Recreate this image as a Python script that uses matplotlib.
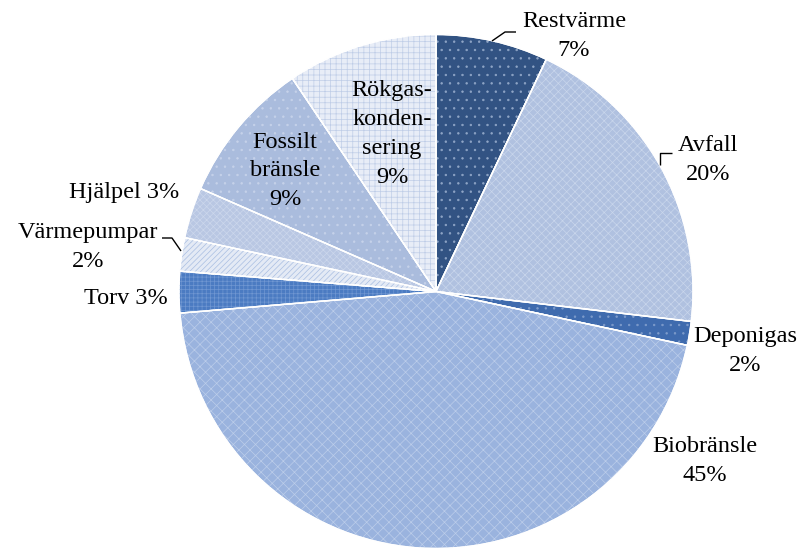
import matplotlib
matplotlib.use("Agg")
import matplotlib.pyplot as plt
from matplotlib.patches import Wedge

categories = ["Restvärme", "Avfall", "Deponigas", "Biobränsle", "Torv",
              "Värmepumpar", "Hjälpel", "Fossilt bränsle", "Rökgaskondensering"]
values = [7.06, 19.8, 1.5, 45.3, 2.6, 2.1, 3.2, 9.0, 9.44]
label_texts = ["Restvärme\n7%", "Avfall\n20%", "Deponigas\n2%", "Biobränsle\n45%",
               "Torv 3%", "Värmepumpar\n2%", "Hjälpel 3%", "Fossilt\nbränsle\n9%",
               "Rökgas-\nkonden-\nsering\n9%"]

face_colors = ["#325383", "#B0C1E0", "#3F6BAE", "#9AB3DE", "#4B7BC2",
               "#E4EAF5", "#B9C7E3", "#AABCDD", "#E8EDF7"]
hatch_colors = ["#8FA5C6", "#C9D6EC", "#7E9CCB", "#BCCDEA", "#7097D2",
                "#A9BEE2", "#CCD7EC", "#C6D2EA", "#BFCDE7"]
hatches = ["..", "xxxx", "..", "xxx", "++++", "//////", "xxxxx", "..", "+++"]

plt.rcParams['font.family'] = ['Liberation Serif', 'DejaVu Serif']
plt.rcParams['hatch.linewidth'] = 0.5

fig = plt.figure(figsize=(8.06, 5.5), dpi=100)
cx, cy, R = 436.0, 291.5, 257.0
W, H = 806.0, 550.0
ax = fig.add_axes([(cx - R) / W, (H - cy - R) / H, 2 * R / W, 2 * R / H])

wedges, _ = ax.pie(values, startangle=90, counterclock=False, radius=1,
                   colors=face_colors,
                   wedgeprops=dict(edgecolor='white', linewidth=1.0))
for w, hc, h in zip(wedges, hatch_colors, hatches):
    ax.add_patch(Wedge(w.center, w.r, w.theta1, w.theta2, facecolor='none',
                       edgecolor=hc, hatch=h, linewidth=0, zorder=w.get_zorder() + 0.1))
for w in wedges:
    ax.add_patch(Wedge(w.center, w.r, w.theta1, w.theta2, facecolor='none',
                       edgecolor='white', linewidth=1.0, zorder=w.get_zorder() + 0.2))

ax.set_xlim(-1, 1)
ax.set_ylim(-1, 1)
ax.set_aspect('equal')
ax.axis('off')


def d(px, py):
    return ((px - cx) / R, (cy - py) / R)


# label positions (pixel centers)
label_pos = [(574, 36), (708, 160), (745, 351), (705, 461), (126, 299),
             (88, 247), (124, 193), (285, 171), (392, 134)]
for txt, (px, py) in zip(label_texts, label_pos):
    x, y = d(px, py)
    ax.text(x, y, txt, ha='center', va='center', fontsize=17.5,
            linespacing=1.48, color='black', clip_on=False)

# leader lines
leaders = [
    [(492, 41), (505, 32), (516, 32)],
    [(660, 165), (660, 153), (672, 153)],
    [(162, 238), (172, 238), (181, 251)],
]
for pts in leaders:
    xs, ys = zip(*[d(*p) for p in pts])
    ax.plot(xs, ys, color='black', linewidth=1.0, solid_capstyle='butt',
            clip_on=False)

fig.savefig("out.png", dpi=100)
